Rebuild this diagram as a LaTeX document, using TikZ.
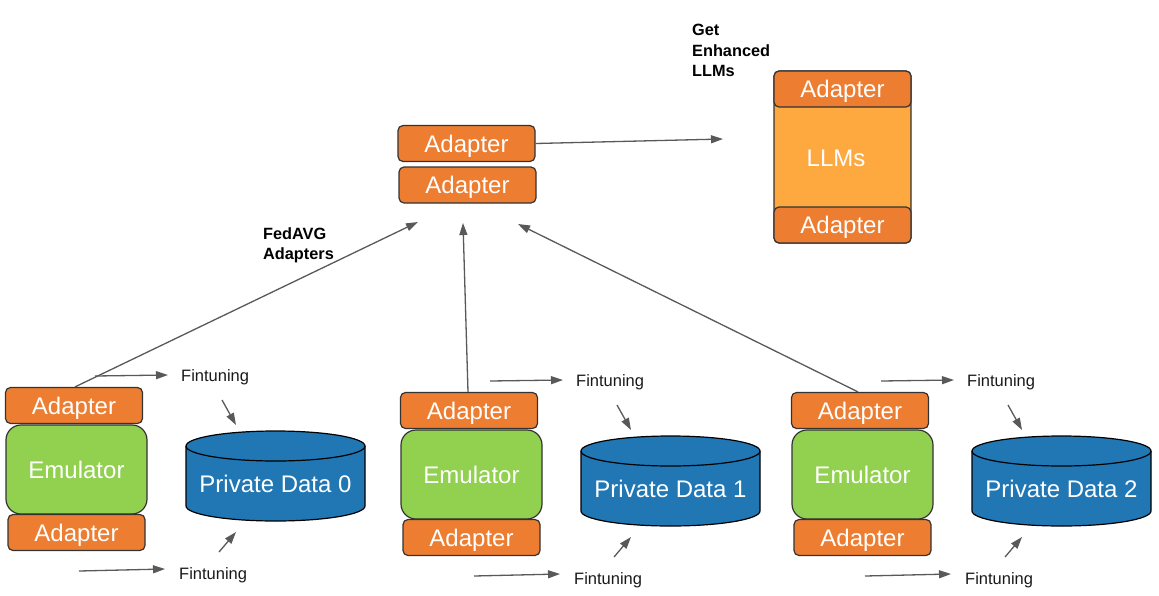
\documentclass[tikz,border=0pt]{standalone}
\usepackage{fontspec}
\setmainfont{Liberation Sans}
\usetikzlibrary{arrows.meta}
\definecolor{adorange}{HTML}{ED7D31}
\definecolor{llmorange}{HTML}{FDA93F}
\definecolor{emugreen}{HTML}{92D050}
\definecolor{datablue}{HTML}{2077B4}
\definecolor{edgegray}{HTML}{333333}
\definecolor{arrgray}{HTML}{595959}
\tikzset{
  box/.style={draw=edgegray, line width=1.2pt, text=white, inner sep=0pt,
    font=\fontsize{24}{28}\selectfont, text height=17pt, text depth=0pt},
  adapterbox/.style={box, fill=adorange, rounded corners=5pt,
    minimum width=137pt, minimum height=36pt},
  emubox/.style={box, fill=emugreen, rounded corners=15pt,
    minimum width=141pt, minimum height=89pt},
  llmbox/.style={box, fill=llmorange, rounded corners=5pt,
    minimum width=137pt, minimum height=172pt},
  datatext/.style={text=white, inner sep=0pt, font=\fontsize{24}{28}\selectfont,
    text height=17pt, text depth=0pt},
  cylfill/.style={fill=datablue, draw=black, line width=1.2pt},
  flabel/.style={inner sep=0pt, anchor=west, text=black!90, font=\fontsize{16.5}{20}\selectfont},
  blabel/.style={inner sep=0pt, anchor=north west, align=left,
    font=\fontsize{16.3}{20.5}\selectfont\bfseries},
  arr/.style={draw=arrgray, line width=1.3pt, -{Triangle[length=12pt,width=8pt]}}
}
\begin{document}
\begin{tikzpicture}[x=1pt,y=-1pt]
\useasboundingbox (0,0) rectangle (1159,595);

% top aggregated adapters
\node[adapterbox] (ta1) at (466.5,143.5) {Adapter};
\node[adapterbox] (ta2) at (467.5,185) {Adapter};

% LLM block
\node[llmbox] (llm) at (842.5,157) {};
\node[box, draw=none, fill=none] (llmtext) at (836,158) {LLMs};
\node[adapterbox] (lla1) at (842.5,89) {Adapter};
\node[adapterbox] (lla2) at (842.5,225) {Adapter};

\node[blabel] (getl) at (692,24) {Get\\Enhanced\\LLMs};
\node[blabel] (fedl) at (263,227) {FedAVG\\Adapters};

\coordinate (getend) at (723,139);
\draw[arr] (ta1.east) -- (getend);

% client groups
\foreach \i/\dx/\dy in {0/0/0,1/395/5,2/786/5}{
  \begin{scope}[shift={(\dx,\dy)}]
    \draw[cylfill] (186,446) -- (186,506) arc (180:0:89.5 and 15)
      -- (365,446) arc (0:-180:89.5 and 15) -- cycle;
    \draw[black, line width=1.2pt] (186,446) arc (180:0:89.5 and 15);
    \node[datatext] (data\i) at (275.5,484) {Private Data \i};
    \node[emubox] (emu\i) at (76.5,469.5) {Emulator};
    \node[adapterbox] (at\i) at (74,405.5) {Adapter};
    \node[adapterbox] (ab\i) at (76.5,532.5) {Adapter};
    \node[flabel] (ft\i) at (181,377) {Fintuning};
    \node[flabel] (fb\i) at (179,575) {Fintuning};
    \coordinate (fts\i) at (95,376);
    \coordinate (fte\i) at (168,375);
    \coordinate (ftd\i) at (222,400);
    \coordinate (ftdd\i) at (236,425);
    \coordinate (fbs\i) at (79,571);
    \coordinate (fbe\i) at (165,569);
    \coordinate (fbu\i) at (219,552);
    \coordinate (fbuu\i) at (236,532);
    \draw[arr] (fts\i) -- (fte\i);
    \draw[arr] (ftd\i) -- (ftdd\i);
    \draw[arr] (fbs\i) -- (fbe\i);
    \draw[arr] (fbu\i) -- (fbuu\i);
  \end{scope}
}

% FedAVG connectors
\coordinate (fa0) at (418,222);
\coordinate (fa1) at (463,223);
\coordinate (fa2) at (518,224);
\draw[arr] ([xshift=1pt]at0.north) -- (fa0);
\draw[arr] ([xshift=-1pt]at1.north) -- (fa1);
\draw[arr] ([xshift=-2pt]at2.north) -- (fa2);
\end{tikzpicture}
\end{document}
